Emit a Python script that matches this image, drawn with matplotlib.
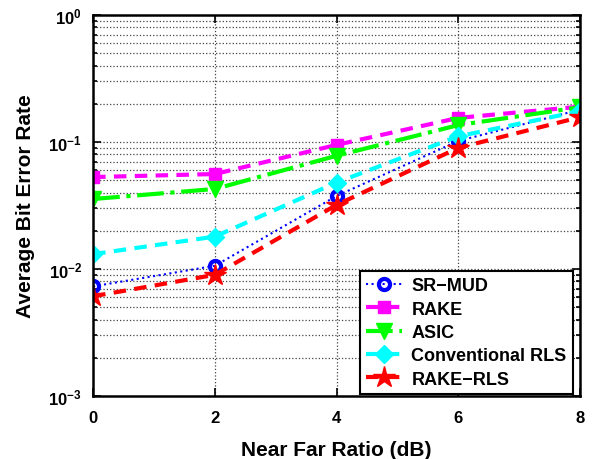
import matplotlib
matplotlib.use("Agg")
import matplotlib.pyplot as plt
from matplotlib.ticker import FixedLocator, FixedFormatter, LogLocator, NullFormatter

plt.rcParams['font.family'] = ['Liberation Sans', 'DejaVu Sans']
plt.rcParams['font.weight'] = 'bold'
plt.rcParams['mathtext.fontset'] = 'custom'
plt.rcParams['mathtext.rm'] = 'Liberation Sans:bold'
plt.rcParams['mathtext.bf'] = 'Liberation Sans:bold'
plt.rcParams['mathtext.default'] = 'bf'

near_far_db = [0, 2, 4, 6, 8]
sr_mud = [0.0073, 0.0106, 0.0376, 0.102, 0.180]
rake = [0.053, 0.056, 0.095, 0.155, 0.190]
asic = [0.0356, 0.0427, 0.078, 0.136, 0.188]
conv_rls = [0.0131, 0.018, 0.048, 0.111, 0.175]
rake_rls = [0.0061, 0.0090, 0.032, 0.090, 0.157]

x_ticks = [0, 2, 4, 6, 8]
y_ticks = [1e-3, 1e-2, 1e-1, 1e0]
y_tick_labels = [r'$10^{-3}$', r'$10^{-2}$', r'$10^{-1}$', r'$10^{0}$']

fig = plt.figure(figsize=(5.97, 4.6), dpi=100)
ax = fig.add_axes([0.156, 0.137, 0.8155, 0.828])

ax.semilogy(near_far_db, sr_mud, color='blue', linestyle=':', linewidth=1.5,
            marker='o', markersize=8, markerfacecolor='none', markeredgewidth=3,
            label='SR\u2212MUD')
ax.semilogy(near_far_db, rake, color='magenta', linestyle='--', linewidth=3,
            dashes=(3, 2), marker='s', markersize=9, label='RAKE')
ax.semilogy(near_far_db, asic, color='#00ff00', linestyle='-.', linewidth=3,
            marker='v', markersize=11, label='ASIC')
ax.semilogy(near_far_db, conv_rls, color='cyan', linestyle='--', linewidth=3,
            dashes=(3, 2), marker='D', markersize=9, label='Conventional RLS')
ax.semilogy(near_far_db, rake_rls, color='red', linestyle='--', linewidth=3,
            dashes=(3, 2), marker='*', markersize=16, label='RAKE\u2212RLS')

ax.set_xlim(0, 8)
ax.set_ylim(1e-3, 1e0)
ax.xaxis.set_major_locator(FixedLocator(x_ticks))
ax.yaxis.set_major_locator(FixedLocator(y_ticks))
ax.yaxis.set_major_formatter(FixedFormatter(y_tick_labels))
ax.yaxis.set_minor_locator(LogLocator(base=10, subs=range(2, 10)))
ax.yaxis.set_minor_formatter(NullFormatter())

ax.grid(True, which='major', linestyle=':', color='#444444', linewidth=0.9)
ax.grid(True, which='minor', axis='y', linestyle=':', color='#444444', linewidth=0.9)

ax.tick_params(which='both', direction='in', top=True, right=True,
               labelsize=12, width=1.2)
ax.tick_params(which='major', length=6, pad=8)
ax.tick_params(axis='x', which='major', pad=10)
ax.tick_params(which='minor', length=3)
for s in ax.spines.values():
    s.set_linewidth(1.8)

ax.set_xlabel('Near Far Ratio (dB)', fontsize=15, fontweight='bold', labelpad=11)
ax.set_ylabel('Average Bit Error Rate', fontsize=15, fontweight='bold', labelpad=10)

leg = ax.legend(loc='lower right', bbox_to_anchor=(0.9856, 0.005),
                fontsize=13, frameon=True, fancybox=False,
                edgecolor='black', framealpha=1, borderpad=0.35, labelspacing=0.35,
                handlelength=2.0, handletextpad=0.5, borderaxespad=0)
leg.get_frame().set_linewidth(1.5)

fig.savefig('out.png', dpi=100)
